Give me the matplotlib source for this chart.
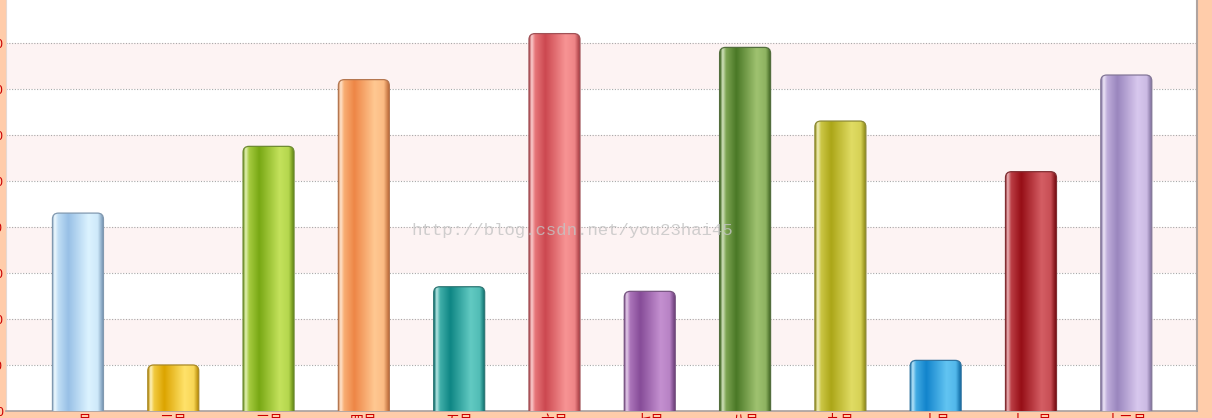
import numpy as np
import matplotlib
matplotlib.use("Agg")
import matplotlib.pyplot as plt
from matplotlib.patches import FancyBboxPatch
from matplotlib.colors import to_rgb

plt.rcParams['font.family'] = ['Noto Sans CJK SC', 'DejaVu Sans']

# chart data
months = ["一月", "二月", "三月", "四月", "五月", "六月",
          "七月", "八月", "九月", "十月", "十一月", "十二月"]
values = [43, 10, 57.5, 72, 27, 82, 26, 79, 63, 11, 52, 73]
y_ticks = [0, 10, 20, 30, 40, 50, 60, 70, 80]

# (dark, light) shade for each cylinder
bar_colors = [
    ("#98c0e6", "#dcf3ff"),
    ("#dca400", "#ffe26a"),
    ("#78a814", "#c4e25c"),
    ("#ee8646", "#ffc892"),
    ("#0e8684", "#62cac2"),
    ("#cc4850", "#f79494"),
    ("#864c98", "#c490d0"),
    ("#4a7826", "#9fc270"),
    ("#aca618", "#e0dc64"),
    ("#1284cc", "#62c4f2"),
    ("#960e16", "#d45e64"),
    ("#9a86be", "#d8c8ee"),
]

fig = plt.figure(figsize=(12.12, 4.18), dpi=100, facecolor="#ffccaa")
ax = fig.add_axes([6 / 1212, 7 / 418, 1191 / 1212, 411 / 418])
ax.set_facecolor("white")

x = np.arange(len(months))
ax.set_xlim(-0.755, 11.742)
ax.set_ylim(0, 89.3)

# alternating bands and dotted grid
for lo in range(10, 80, 20):
    ax.axhspan(lo, lo + 10, color="#fdf3f3", zorder=0, lw=0)
for t in y_ticks[1:]:
    ax.axhline(t, color="#a8a8a8", lw=0.8, ls=(0, (1, 1.5)), zorder=1)

bars = ax.bar(x, values, width=0.535, alpha=0)

# px per data unit, used to keep corner rounding circular
fig.canvas.draw()
p0 = ax.transData.transform((0, 0))
p1 = ax.transData.transform((1, 1))
px_x = p1[0] - p0[0]
px_y = p1[1] - p0[1]
r = 6 / px_x
aspect = px_x / px_y

prof_pos = [0.0, 0.05, 0.12, 0.32, 0.72, 0.9, 1.0]
for rect, (dark, light) in zip(bars, bar_colors):
    d = np.array(to_rgb(dark))
    l = np.array(to_rgb(light))
    w = np.ones(3)
    stops = [d * 0.85, l * 0.45 + w * 0.55, l * 0.6 + d * 0.4, d, l, l * 0.8 + d * 0.2, d * 0.8]
    xs = np.linspace(0, 1, 200)
    grad = np.stack([np.interp(xs, prof_pos, [s[c] for s in stops]) for c in range(3)], axis=-1)
    grad = grad[np.newaxis, :, :]

    bx, bw, bh = rect.get_x(), rect.get_width(), rect.get_height()
    shape = FancyBboxPatch((bx, -3), bw, bh + 3,
                           boxstyle=f"round,pad=0,rounding_size={r}",
                           mutation_aspect=aspect,
                           facecolor="none", edgecolor=tuple(d * 0.6 + 0.15), lw=0.9, zorder=4)
    ax.add_patch(shape)
    im = ax.imshow(grad, extent=[bx, bx + bw, -3, bh], aspect="auto",
                   interpolation="bilinear", zorder=3)
    im.set_clip_path(shape)

ax.set_xticks(x)
ax.set_xticklabels(months, color="#cc0000", fontsize=10)
ax.set_yticks(y_ticks)
ax.set_yticklabels([str(t) for t in y_ticks], color="#cc0000", fontsize=9)
ax.tick_params(axis="x", length=0, pad=2)
ax.tick_params(axis="y", length=0, pad=2)

ax.spines["top"].set_visible(False)
ax.spines["left"].set_color("#e8d8d0")
ax.spines["right"].set_color("#b0a4a0")
ax.spines["right"].set_linewidth(1.5)
ax.spines["bottom"].set_color("#a8a0a0")
ax.spines["bottom"].set_linewidth(1.2)

ax.text(0.475, 0.44, "http://blog.csdn.net/you23hai45", transform=ax.transAxes,
        fontsize=12.5, family="Liberation Mono", color="#c4c4c4", alpha=0.8,
        ha="center", va="center", zorder=6)

fig.savefig("out.png", dpi=100, facecolor=fig.get_facecolor())
